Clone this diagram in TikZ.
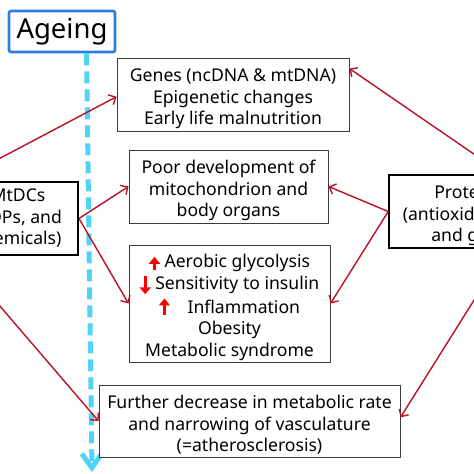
\documentclass[tikz,border=0pt]{standalone}
\usepackage{fontspec}
\setmainfont{Noto Sans}
\usetikzlibrary{arrows.meta,calc}
\definecolor{arrred}{RGB}{185,18,40}
\definecolor{boxgray}{RGB}{60,60,60}
\definecolor{agblue}{RGB}{46,125,222}
\definecolor{cyanline}{RGB}{80,212,245}
\newcommand\tstrut{\rule{0pt}{21.5pt}}
\newcommand\uparr[1]{\tikz[baseline=0pt,x=1pt,y=1pt]\draw[red,line width=3.2pt,-{Triangle[length=7pt,width=11pt]}](0,-2)--(0,#1);}
\newcommand\downarr{\tikz[baseline=0pt,x=1pt,y=1pt]\draw[red,line width=3.2pt,-{Triangle[length=7pt,width=11pt]}](0,13)--(0,-5);}
\begin{document}
\begin{tikzpicture}[x=1pt,y=-1pt,
  box/.style={draw=boxgray, line width=1pt, fill=white, align=center, inner sep=0pt,
    font=\fontsize{17.6}{21.5}\selectfont},
  conn/.style={draw=arrred, line width=1.4pt, -{Straight Barb[length=5.5pt,width=11pt]}},
]
\useasboundingbox (0,0) rectangle (474,474);
\clip (0,0) rectangle (474,474);
\fill[white] (0,0) rectangle (474,474);

\node[draw=agblue, line width=2.6pt, rounded corners=2pt, fill=white, inner sep=0pt,
  minimum width=106pt, minimum height=41pt, font=\fontsize{27.5}{30}\selectfont]
  (ag) at (62,31.5) {Ageing};
\coordinate (aend) at (92,472);
\draw[cyanline, line width=5pt, dash pattern=on 12pt off 6pt,
  -{Straight Barb[length=14pt,width=20pt]}]
  ($(ag.south west)!0.726!(ag.south east)$) -- (aend);

\node[box, minimum width=232pt, minimum height=73pt] (genes) at (233,94.5)
  {\tstrut Genes (ncDNA \& mtDNA)\\Epigenetic changes\\Early life malnutrition};
\node[box, minimum width=199pt, minimum height=73pt] (poor) at (228.5,186.5)
  {\tstrut Poor development of\\mitochondrion and\\body organs};
\node[box, minimum width=201pt, minimum height=117pt] (aer) at (229.5,303.5)
  {\tstrut\uparr{11}\ Aerobic glycolysis\\\downarr\ Sensitivity to insulin\\\uparr{15}\quad Inflammation\\Obesity\\Metabolic syndrome};
\node[box, minimum width=301pt, minimum height=72pt] (fur) at (249.5,421)
  {\tstrut Further decrease in metabolic rate\\and narrowing of vasculature\\(=atherosclerosis)};
\node[box, draw=black, line width=2pt, minimum width=120pt, minimum height=73pt] (mt) at (18,218.5)
  {MtDCs\\(EDPs, and\\chemicals)};
\node[box, draw=black, line width=1.5pt, minimum width=176pt, minimum height=73pt] (pr) at (477,211.5)
  {\tstrut Protection\\(antioxidants, diet\\and genes)};

\draw[conn] (mt.north west) -- ($(genes.north west)!0.53!(genes.south west)$);
\draw[conn] (mt.east) -- (poor.west);
\draw[conn] (mt.east) -- (aer.west);
\draw[conn] (mt.south west) -- (fur.west);
\draw[conn] ($(pr.north west)!0.648!(pr.north east)$) -- ($(genes.north east)!0.15!(genes.south east)$);
\draw[conn] (pr.west) -- (poor.east);
\draw[conn] (pr.west) -- (aer.east);
\draw[conn] ($(pr.south west)!0.665!(pr.south east)$) -- ($(fur.north east)!0.45!(fur.south east)$);
\end{tikzpicture}
\end{document}
